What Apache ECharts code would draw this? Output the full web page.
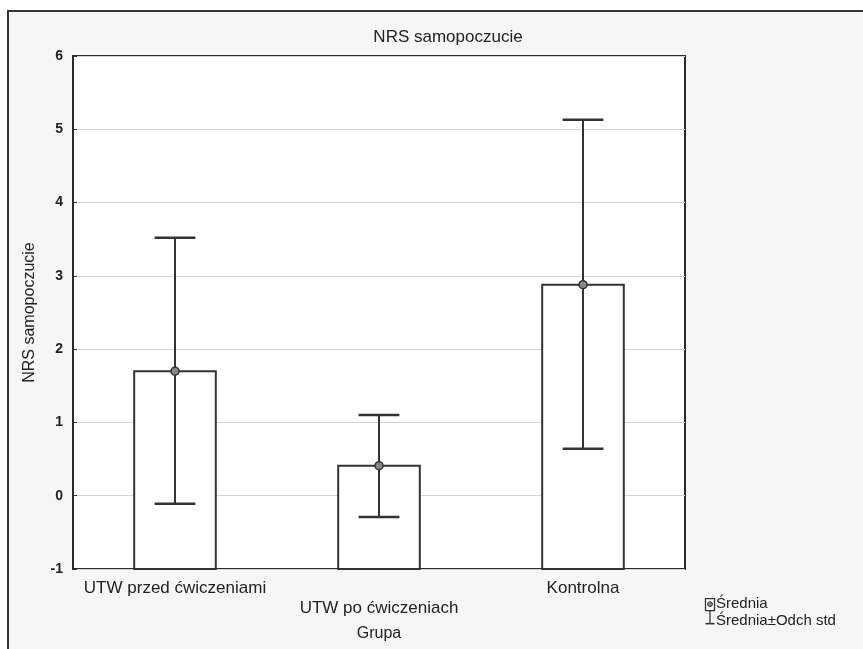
<!DOCTYPE html>
<html>
<head>
<meta charset="utf-8">
<script src="https://cdn.jsdelivr.net/npm/echarts@6/dist/echarts.min.js"></script>
<style>
html,body{margin:0;padding:0;background:#fff;}
#c{width:863px;height:649px;}
</style>
</head>
<body>
<div id="c"></div>
<script>
const categories = ['UTW przed ćwiczeniami', 'UTW po ćwiczeniach', 'Kontrolna'];
const means = [1.70, 0.41, 2.88];
const upper = [3.52, 1.10, 5.13];
const lower = [-0.11, -0.29, 0.64];
const yTicks = [-1, 0, 1, 2, 3, 4, 5, 6];
const barBase = -1;

const FONT = '"Liberation Sans", Arial, sans-serif';
const chart = echarts.init(document.getElementById('c'));

const data = categories.map((c, i) => [i, means[i], lower[i], upper[i]]);

const option = {
  backgroundColor: '#ffffff',
  animation: false,
  graphic: [
    { type: 'rect', shape: { x: 8, y: 11, width: 870, height: 660 }, style: { fill: '#f6f6f6', stroke: '#333', lineWidth: 2 }, z: -100 },
    // legend icons
    { type: 'group', left: 703, top: 598, z: 10, children: [
      { type: 'rect', shape: { x: 0, y: 0, width: 9, height: 12 }, style: { fill: '#fff', stroke: '#333', lineWidth: 1.3 } },
      { type: 'circle', shape: { cx: 4.5, cy: 5.5, r: 2.4 }, style: { fill: '#888', stroke: '#333', lineWidth: 1 } },
      { type: 'line', shape: { x1: 4.5, y1: 12, x2: 4.5, y2: 25 }, style: { stroke: '#333', lineWidth: 1.3 } },
      { type: 'line', shape: { x1: 0, y1: 25, x2: 9, y2: 25 }, style: { stroke: '#333', lineWidth: 1.6 } }
    ]},
    { type: 'text', left: 716, top: 596, z: 10, style: { text: 'Średnia', font: '15px ' + FONT, fill: '#222' } },
    { type: 'text', left: 716, top: 613, z: 10, style: { text: 'Średnia±Odch std', font: '15px ' + FONT, fill: '#222' } }
  ],
  title: {
    text: 'NRS samopoczucie',
    left: 443, top: 24, textAlign: 'center',
    textStyle: { fontFamily: FONT, fontSize: 17, fontWeight: 'normal', color: '#222' }
  },
  grid: { left: 73, top: 56, right: 178, bottom: 80, show: true, borderColor: '#2a2a2a', borderWidth: 2, backgroundColor: '#ffffff' },
  xAxis: {
    type: 'category',
    data: categories,
    name: 'Grupa',
    nameLocation: 'middle',
    nameGap: 57,
    nameTextStyle: { fontFamily: FONT, fontSize: 16, color: '#222' },
    axisLine: { show: false },
    axisTick: { show: false },
    splitLine: { show: false },
    axisLabel: {
      interval: 0,
      margin: 9,
      fontFamily: FONT, fontSize: 17, color: '#222',
      lineHeight: 20,
      formatter: (v, i) => (i === 1 ? '\n' + v : v)
    }
  },
  yAxis: {
    type: 'value',
    min: yTicks[0], max: yTicks[yTicks.length - 1], interval: 1,
    name: 'NRS samopoczucie',
    nameLocation: 'middle',
    nameGap: 35,
    nameRotate: 90,
    nameTextStyle: { fontFamily: FONT, fontSize: 16, color: '#222' },
    axisLine: { show: false },
    axisTick: { show: true, inside: true, length: 4, lineStyle: { color: '#333' } },
    axisLabel: { fontFamily: FONT, fontSize: 14, fontWeight: 'bold', color: '#222', margin: 10 },
    splitLine: { show: true, lineStyle: { color: '#d4d4d4', width: 1 } }
  },
  series: [{
    type: 'custom',
    data: data,
    encode: { x: 0, y: [1, 2, 3] },
    renderItem: function (params, api) {
      const i = api.value(0);
      const m = api.value(1), lo = api.value(2), hi = api.value(3);
      const pM = api.coord([i, m]);
      const pB = api.coord([i, barBase]);
      const pL = api.coord([i, lo]);
      const pH = api.coord([i, hi]);
      const bw = api.size([1, 0])[0] * 0.4;
      const cw = bw * 0.5;
      const x = pM[0];
      return {
        type: 'group',
        children: [
          { type: 'rect', shape: { x: x - bw / 2, y: pM[1], width: bw, height: pB[1] - pM[1] }, style: { fill: '#fff', stroke: '#333', lineWidth: 2 } },
          { type: 'line', shape: { x1: x, y1: pH[1], x2: x, y2: pL[1] }, style: { stroke: '#333', lineWidth: 2 } },
          { type: 'line', shape: { x1: x - cw / 2, y1: pH[1], x2: x + cw / 2, y2: pH[1] }, style: { stroke: '#333', lineWidth: 2.5 } },
          { type: 'line', shape: { x1: x - cw / 2, y1: pL[1], x2: x + cw / 2, y2: pL[1] }, style: { stroke: '#333', lineWidth: 2.5 } },
          { type: 'circle', shape: { cx: x, cy: pM[1], r: 4 }, style: { fill: '#888', stroke: '#333', lineWidth: 1.5 } }
        ]
      };
    }
  }]
};
chart.setOption(option);
</script>
</body>
</html>
